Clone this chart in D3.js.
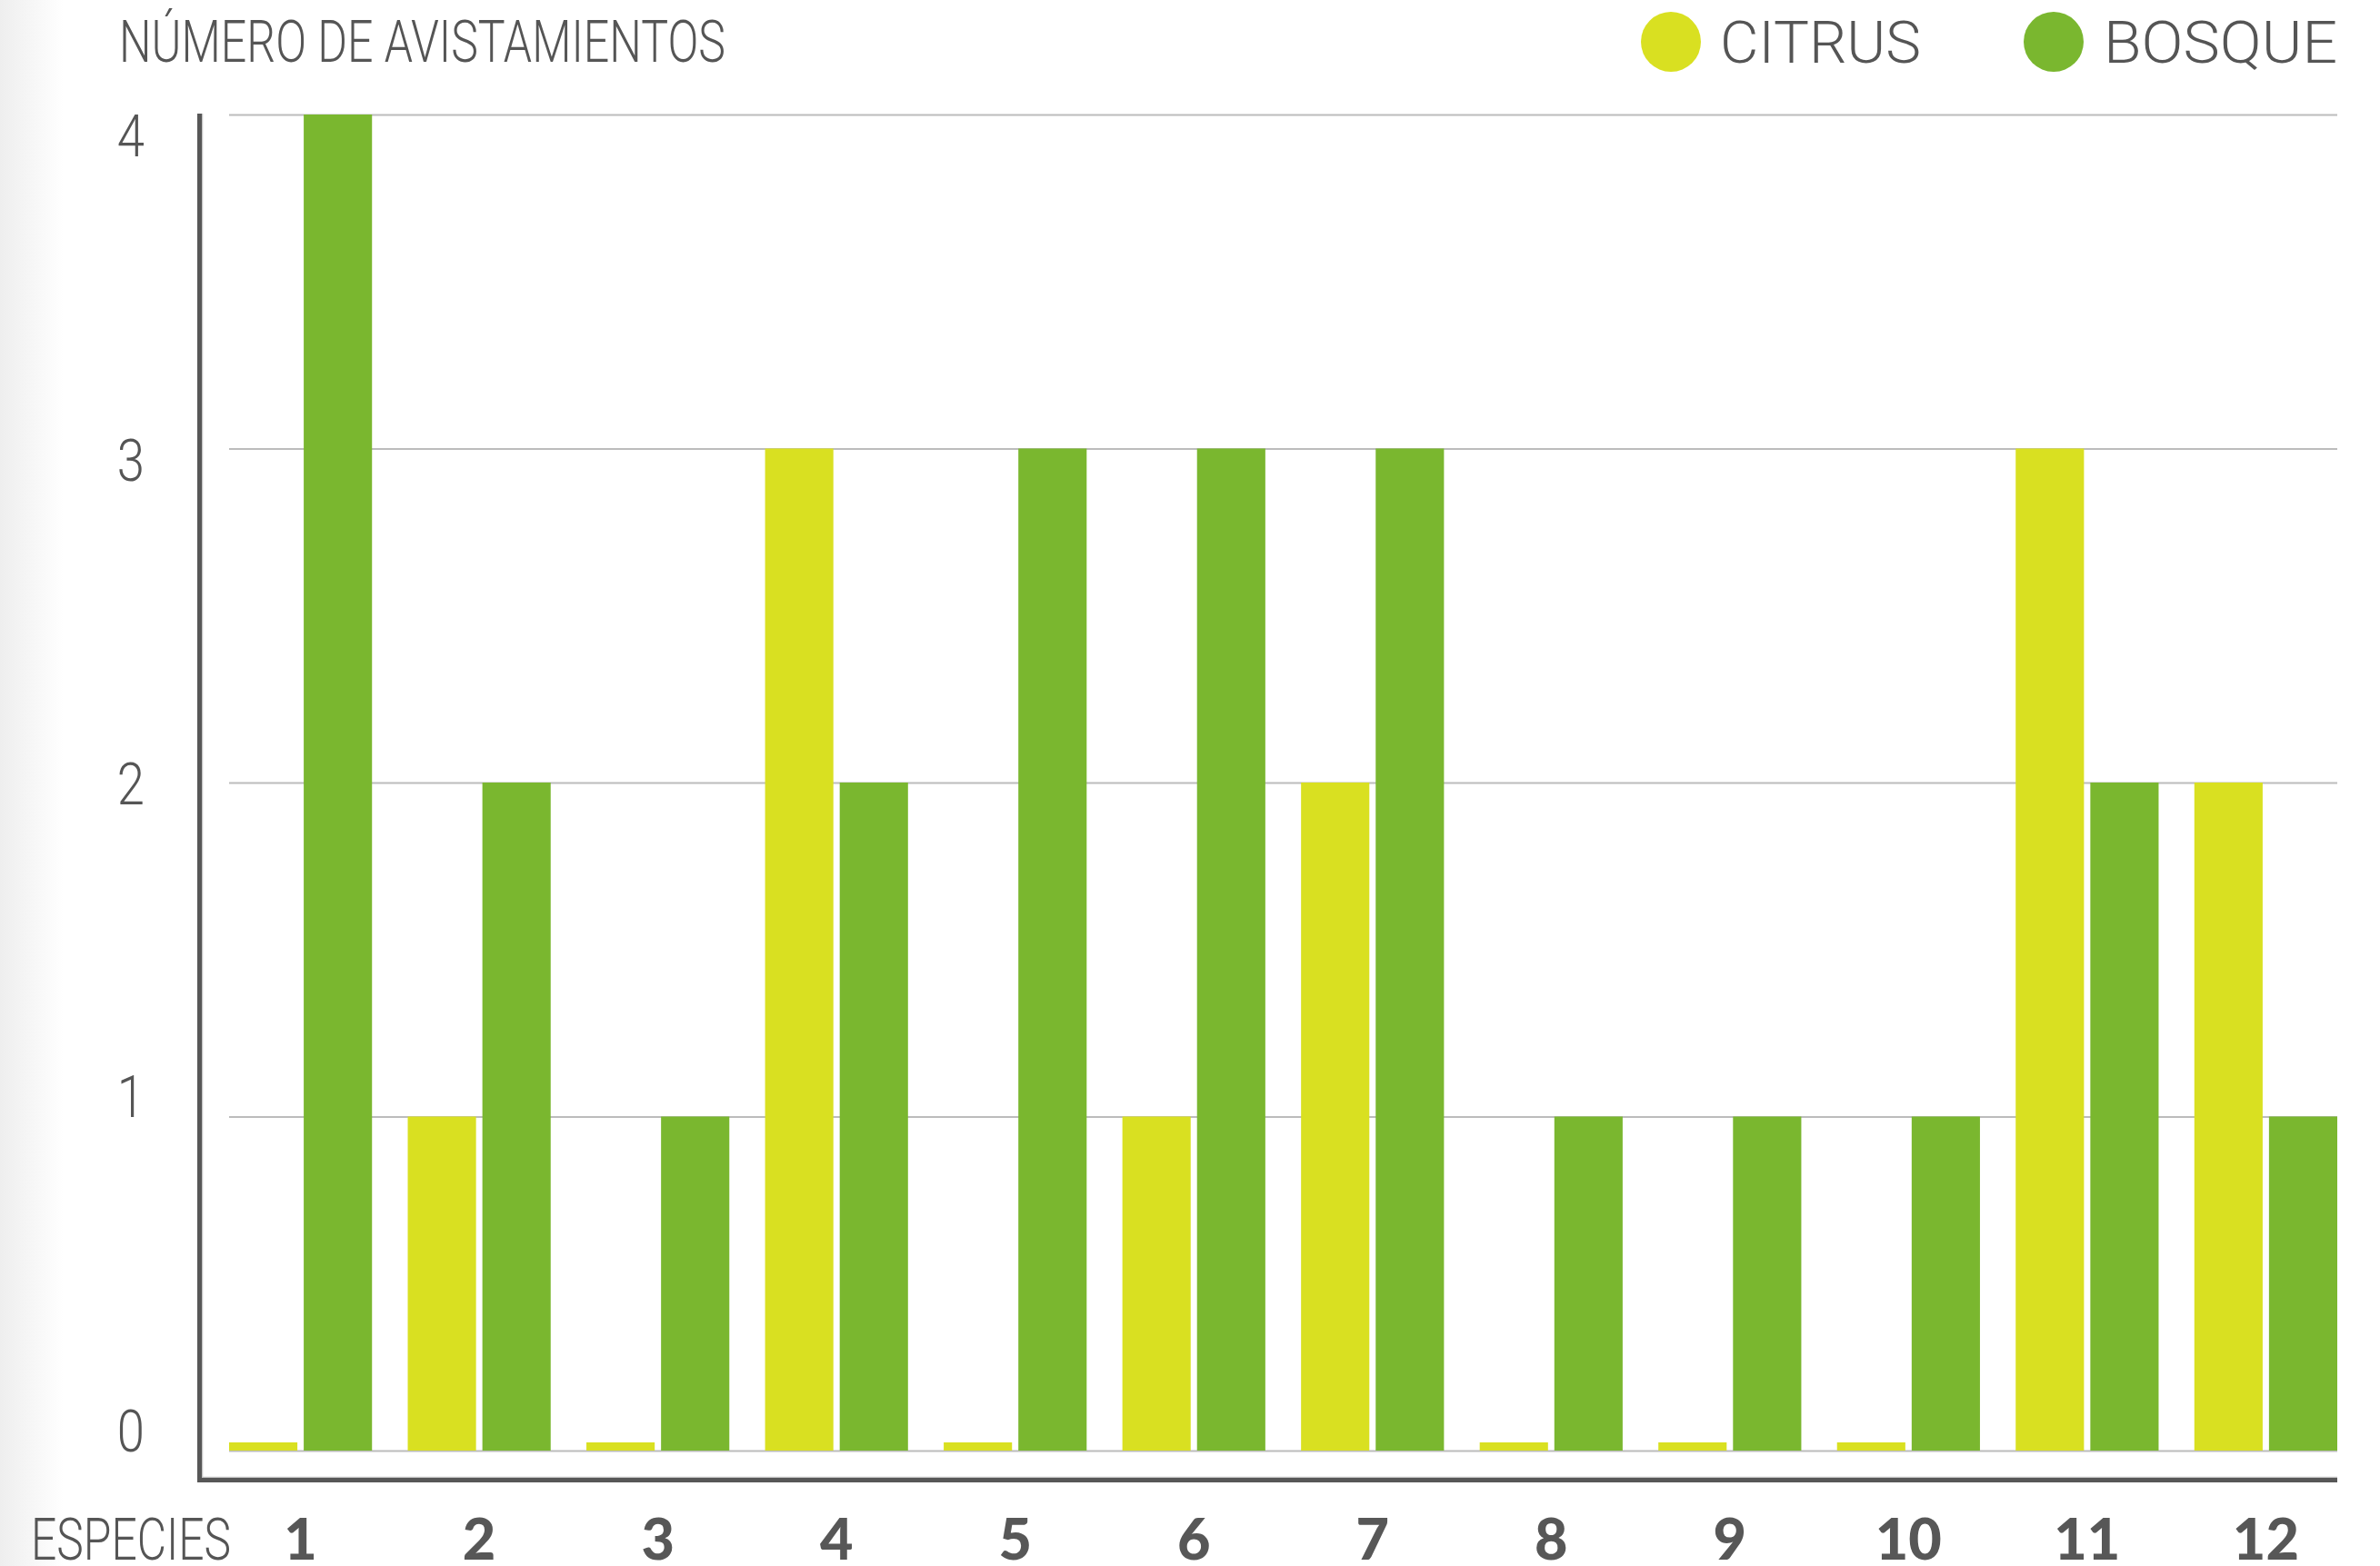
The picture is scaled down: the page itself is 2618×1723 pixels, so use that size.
<!DOCTYPE html>
<html>
<head>
<meta charset="utf-8">
<script src="https://cdn.jsdelivr.net/npm/d3@7"></script>
<style>
  html, body { margin: 0; padding: 0; background: #fff; }
  svg { display: block; }
  .light { font-family: Roboto, "Liberation Sans", sans-serif; font-weight: 300; fill: #555555; }
  .heavy { font-family: Lato, "Open Sans", sans-serif; font-weight: 900; fill: #575757; }
</style>
</head>
<body>
<script>
// Sightings per species in two habitats
const species = ["1", "2", "3", "4", "5", "6", "7", "8", "9", "10", "11", "12"];
const citrus  = [0, 1, 0, 3, 0, 1, 2, 0, 0, 0, 3, 2];
const bosque  = [4, 2, 1, 2, 3, 3, 3, 1, 1, 1, 2, 1];
const seriesNames = ["citrus", "bosque"];
const seriesLabels = ["CITRUS", "BOSQUE"];
const yTicks = [0, 1, 2, 3, 4];
const titleText = "NÚMERO DE AVISTAMIENTOS";
const xAxisTitle = "ESPECIES";

const W = 2618, H = 1723;
const colors = { citrus: "#d9e021", bosque: "#7ab72f" };
const textColor = "#575757";
const gridColor = "#bcbcbc";

const plot = { left: 252, right: 2571, top: 126, bottom: 1596 };
const axisX = 219.5, axisBottomY = 1628.5;
const zeroStub = 9; // empty categories still show a thin sliver

const svg = d3.select("body").append("svg")
  .attr("width", W).attr("height", H);

// soft shade along the left edge of the page
const defs = svg.append("defs");
const grad = defs.append("linearGradient").attr("id", "edgeShade")
  .attr("x1", 0).attr("x2", 1).attr("y1", 0).attr("y2", 0);
grad.append("stop").attr("offset", 0).attr("stop-color", "#eeeeee");
grad.append("stop").attr("offset", 1).attr("stop-color", "#ffffff");
svg.append("rect").attr("x", 0).attr("y", 0).attr("width", 70).attr("height", H)
  .attr("fill", "url(#edgeShade)");

const x0 = d3.scaleBand().domain(species)
  .range([plot.left, plot.right]).paddingInner(0.2).paddingOuter(0);
const x1 = d3.scaleBand().domain(seriesNames)
  .range([0, x0.bandwidth()]).paddingInner(0.085);
const y = d3.scaleLinear().domain([0, 4]).range([plot.bottom, plot.top]);
// tick labels are set slightly apart from their gridlines
const yLabel = d3.scaleLinear().domain([0, 1, 2, 3, 4]).range([1573, 1205, 861, 505, 148]);

// gridlines
const grid = svg.append("g")
  .attr("transform", `translate(${plot.left},0)`)
  .call(d3.axisRight(y).tickValues(yTicks).tickSize(plot.right - plot.left).tickFormat(""));
grid.select(".domain").remove();
grid.selectAll(".tick line").attr("stroke", gridColor).attr("stroke-width", 2);

// bars
const rows = species.map((s, i) => ({ s, vals: [
  { key: "citrus", v: citrus[i] }, { key: "bosque", v: bosque[i] }] }));

svg.append("g").selectAll("g").data(rows).join("g")
  .attr("transform", d => `translate(${x0(d.s)},0)`)
  .selectAll("rect").data(d => d.vals).join("rect")
  .attr("x", d => x1(d.key))
  .attr("width", x1.bandwidth())
  .attr("y", d => d.v === 0 ? y(0) - zeroStub : y(d.v))
  .attr("height", d => d.v === 0 ? zeroStub : y(0) - y(d.v))
  .attr("fill", d => colors[d.key]);

// axis frame (L shape)
svg.append("line").attr("x1", axisX + 3).attr("x2", axisX + 3)
  .attr("y1", 125).attr("y2", axisBottomY - 2.5)
  .attr("stroke", "#c4c4c4").attr("stroke-width", 1.5);
svg.append("line").attr("x1", axisX + 2.5).attr("x2", plot.right)
  .attr("y1", axisBottomY - 3).attr("y2", axisBottomY - 3)
  .attr("stroke", "#c4c4c4").attr("stroke-width", 1.5);
svg.append("line").attr("x1", axisX).attr("x2", axisX)
  .attr("y1", 125).attr("y2", axisBottomY + 2.5)
  .attr("stroke", textColor).attr("stroke-width", 5);
svg.append("line").attr("x1", axisX - 2.5).attr("x2", plot.right)
  .attr("y1", axisBottomY).attr("y2", axisBottomY)
  .attr("stroke", textColor).attr("stroke-width", 5);

// y tick labels
const yAxis = svg.append("g")
  .call(d3.axisLeft(yLabel).tickValues(yTicks).tickSize(0).tickFormat(d3.format("d")));
yAxis.select(".domain").remove();
yAxis.selectAll(".tick text")
  .attr("class", "light")
  .attr("font-size", 64)
  .attr("x", 0).attr("dy", null).attr("y", 23)
  .attr("text-anchor", "end")
  .attr("transform", "translate(159,0) scale(0.85,1)");
yAxis.attr("font-family", null).attr("font-size", null);

// category labels
const xAxis = svg.append("g")
  .attr("transform", "translate(0,1716)")
  .call(d3.axisBottom(x0).tickSize(0));
xAxis.select(".domain").remove();
xAxis.attr("font-family", null).attr("font-size", null);
xAxis.selectAll(".tick text")
  .attr("class", "heavy")
  .attr("font-size", 63)
  .attr("y", 0).attr("dy", null);

svg.append("text").attr("class", "light")
  .attr("x", 34).attr("y", 1716).attr("font-size", 64)
  .attr("textLength", 220).attr("lengthAdjust", "spacingAndGlyphs")
  .text(xAxisTitle);

// title
svg.append("text").attr("class", "light")
  .attr("x", 131).attr("y", 68).attr("font-size", 64)
  .attr("textLength", 667).attr("lengthAdjust", "spacingAndGlyphs")
  .text(titleText);

// legend
const legendItems = [
  { key: "citrus", label: seriesLabels[0], cx: 1838, tx: 1892, len: 221 },
  { key: "bosque", label: seriesLabels[1], cx: 2259, tx: 2314, len: 257 }
];
const lg = svg.append("g").selectAll("g").data(legendItems).join("g");
lg.append("circle").attr("cx", d => d.cx).attr("cy", 46).attr("r", 33)
  .attr("fill", d => colors[d.key]);
lg.append("text").attr("class", "light")
  .attr("x", d => d.tx).attr("y", 69).attr("font-size", 64)
  .attr("textLength", d => d.len).attr("lengthAdjust", "spacingAndGlyphs")
  .text(d => d.label);
</script>
</body>
</html>
